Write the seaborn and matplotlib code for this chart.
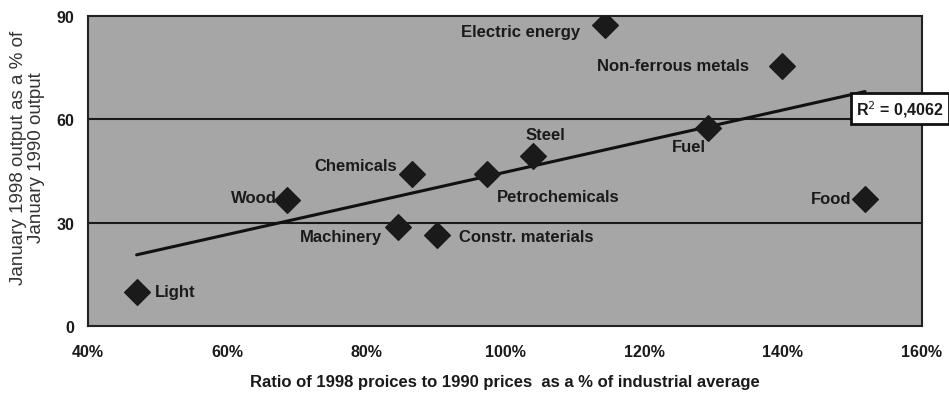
import numpy as np
import pandas as pd
import matplotlib
matplotlib.use('Agg')
import matplotlib.pyplot as plt
import seaborn as sns

# ── Data ──────────────────────────────────────
sectors = ['Light', 'Wood', 'Chemicals', 'Machinery', 'Constr. materials',
           'Petrochemicals', 'Steel', 'Electric energy', 'Fuel',
           'Non-ferrous metals', 'Food']
price_ratio = [47.0, 68.6, 86.6, 84.6, 90.2, 97.4, 104.0, 114.4, 129.2, 139.9, 151.8]
output_pct = [9.9, 36.6, 44.2, 28.8, 26.5, 44.2, 49.4, 87.5, 57.6, 75.6, 36.9]
x_ticks = [40, 60, 80, 100, 120, 140, 160]
y_ticks = [0, 30, 60, 90]

df = pd.DataFrame({'sector': sectors, 'x': price_ratio, 'y': output_pct})

# label placement: (dx px, dy px, ha)
label_pos = {
    'Light': (18, 0, 'left'),
    'Wood': (-10, 2, 'right'),
    'Chemicals': (-15, 8, 'right'),
    'Machinery': (-16, -10, 'right'),
    'Constr. materials': (22, -2, 'left'),
    'Petrochemicals': (10, -23, 'left'),
    'Steel': (13, 21, 'center'),
    'Electric energy': (-25, -7, 'right'),
    'Fuel': (-19, -19, 'center'),
    'Non-ferrous metals': (-33, 0, 'right'),
    'Food': (-14, 0, 'right'),
}

sns.set_theme(style='white')
plt.rcParams['font.family'] = ['Liberation Sans', 'DejaVu Sans']

fig = plt.figure(figsize=(9.49, 4.10), dpi=100)
ax = fig.add_axes([0.0927, 0.2024, 0.8788, 0.7561])
ax.set_facecolor('#a6a6a6')

# gridlines at 30 and 60
for yv in y_ticks[1:-1]:
    ax.axhline(yv, color='#1a1a1a', lw=1.5, zorder=1)

sns.regplot(data=df, x='x', y='y', scatter=False, ci=None, truncate=True,
            line_kws={'color': '#111111', 'lw': 2.2, 'zorder': 2}, ax=ax)
sns.scatterplot(data=df, x='x', y='y', marker='D', s=170, color='#1a1a1a',
                edgecolor='#1a1a1a', zorder=3, ax=ax, legend=False)

for name, xv, yv in zip(sectors, price_ratio, output_pct):
    dx, dy, ha = label_pos[name]
    ax.annotate(name, (xv, yv), xytext=(dx, dy), textcoords='offset pixels',
                ha=ha, va='center', fontsize=12, fontweight='bold',
                color='#1a1a1a', zorder=4)

# R squared of linear fit
slope, intercept = np.polyfit(df['x'], df['y'], 1)
pred = slope * df['x'] + intercept
r2 = 1 - ((df['y'] - pred) ** 2).sum() / ((df['y'] - df['y'].mean()) ** 2).sum()
print('R2 =', r2)
ax.text(0.9736, 0.7016, 'R$^2$ = 0,4062', transform=ax.transAxes,
        ha='center', va='center', fontsize=11.5, fontweight='bold',
        color='#1a1a1a', clip_on=False, zorder=5,
        bbox=dict(boxstyle='square,pad=0.3', facecolor='white',
                  edgecolor='#111111', lw=2))

ax.set_xlim(40, 160)
ax.set_ylim(0, 90)
ax.set_xticks(x_ticks)
ax.set_xticklabels([f'{t}%' for t in x_ticks])
ax.set_yticks(y_ticks)
for sp in ax.spines.values():
    sp.set_color('#222222')
    sp.set_linewidth(1.5)
ax.tick_params(axis='both', direction='out', length=5, width=1.2,
               color='#222222', labelsize=11.5, labelcolor='#1a1a1a')
ax.tick_params(axis='x', pad=8)
ax.tick_params(axis='y', pad=5)
for lab in ax.get_xticklabels() + ax.get_yticklabels():
    lab.set_fontweight('bold')

ax.set_xlabel('Ratio of 1998 proices to 1990 prices  as a % of industrial average',
              fontsize=12, fontweight='bold', color='#1a1a1a', labelpad=11)
ax.set_ylabel('January 1998 output as a % of\nJanuary 1990 output',
              fontsize=13.5, color='#333333', linespacing=1.12)
ax.yaxis.set_label_coords(-0.051, 0.545)

fig.savefig('out.png', dpi=100)
